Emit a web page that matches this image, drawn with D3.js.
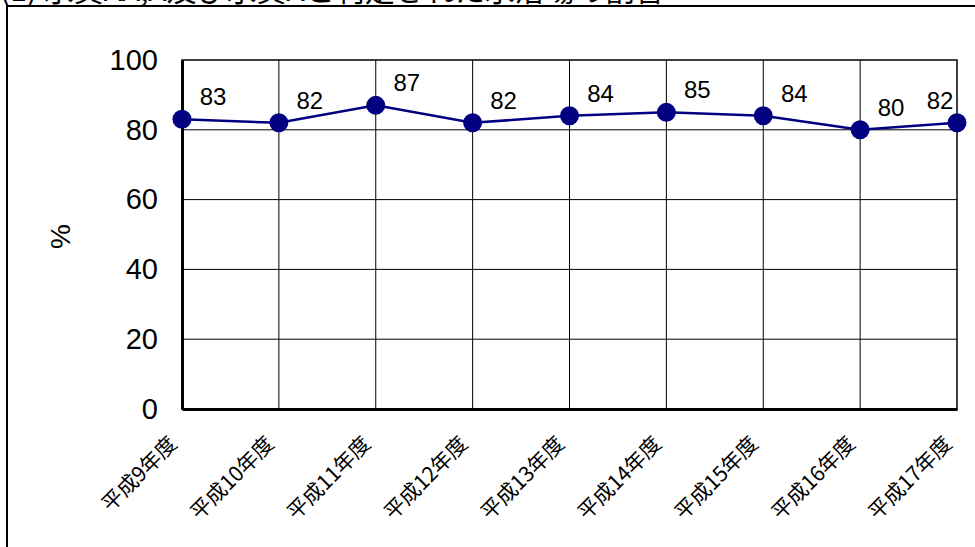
<!DOCTYPE html>
<html>
<head>
<meta charset="utf-8">
<script src="https://cdn.jsdelivr.net/npm/d3@7"></script>
<style>
  body { margin: 0; background: #fff; }
  svg { display: block; }
</style>
</head>
<body>
<div id="chart"></div>
<script>
const titleText = "(1) 水質AA,A及び水質Aと判定された水浴場の割合";
const years = ["平成9年度", "平成10年度", "平成11年度", "平成12年度", "平成13年度",
    "平成14年度", "平成15年度", "平成16年度", "平成17年度"];
const rates = [83, 82, 87, 82, 84, 85, 84, 80, 82];
const yTicks = [0, 20, 40, 60, 80, 100];

const W = 975, H = 547;
const margin = { top: 60, right: 18, bottom: 138, left: 182 };
const width = W - margin.left - margin.right;
const height = H - margin.top - margin.bottom;

const root = d3.select("#chart").append("svg")
    .attr("width", W)
    .attr("height", H);

// outer frame
root.append("rect")
    .attr("x", 7).attr("y", 6)
    .attr("width", W + 10).attr("height", H + 10)
    .attr("fill", "none")
    .attr("stroke", "#000")
    .attr("stroke-width", 2);

// title (cut off at top, as in the source)
root.append("text")
    .attr("x", 0)
    .attr("y", 1)
    .style("font-family", "'Noto Sans CJK JP', sans-serif")
    .style("font-size", "30px")
    .text(titleText);

const svg = root.append("g")
    .attr("transform", `translate(${margin.left},${margin.top})`);

const x = d3.scalePoint()
    .domain(years)
    .range([0, width]);

const y = d3.scaleLinear()
    .domain([0, 100])
    .range([height, 0]);

// grid
svg.append("g")
    .selectAll("line")
    .data(yTicks.slice(1, -1))
    .enter().append("line")
    .attr("x1", 0).attr("x2", width)
    .attr("y1", d => y(d)).attr("y2", d => y(d))
    .attr("stroke", "#000").attr("stroke-width", 1);

svg.append("g")
    .selectAll("line")
    .data(years.slice(1, -1))
    .enter().append("line")
    .attr("x1", d => x(d)).attr("x2", d => x(d))
    .attr("y1", 0).attr("y2", height)
    .attr("stroke", "#000").attr("stroke-width", 1);

// plot border
svg.append("rect")
    .attr("width", width).attr("height", height)
    .attr("fill", "none")
    .attr("stroke", "#000")
    .attr("stroke-width", 1.5);

// axes
const yAxis = svg.append("g")
    .call(d3.axisLeft(y).tickValues(yTicks).tickSize(0).tickPadding(24));
yAxis.select(".domain").attr("stroke-width", 3);
yAxis.selectAll("text")
    .style("font-family", "'Liberation Sans', Arial, sans-serif")
    .style("font-size", "29px")
    .attr("fill", "#000");

const xAxis = svg.append("g")
    .attr("transform", `translate(0,${height})`)
    .call(d3.axisBottom(x).tickSize(0).tickFormat(""));
xAxis.select(".domain").attr("stroke-width", 3);

svg.append("g")
    .selectAll("text")
    .data(years)
    .enter().append("text")
    .attr("transform", d => `translate(${x(d) - 9},${height + 31}) rotate(-45)`)
    .attr("text-anchor", "end")
    .attr("dy", "0.35em")
    .style("font-family", "'Noto Sans CJK JP', sans-serif")
    .style("font-size", "21px")
    .text(d => d);

// y label
svg.append("text")
    .attr("transform", `translate(${-122},${height / 2 + 2}) rotate(-90)`)
    .attr("text-anchor", "middle")
    .attr("dy", "0.35em")
    .style("font-family", "'Liberation Sans', Arial, sans-serif")
    .style("font-size", "28px")
    .text("%");

// line
const line = d3.line()
    .x((d, i) => x(years[i]))
    .y(d => y(d));

svg.append("path")
    .datum(rates)
    .attr("d", line)
    .attr("fill", "none")
    .attr("stroke", "#000080")
    .attr("stroke-width", 2.5);

svg.selectAll(".dot")
    .data(rates)
    .enter().append("circle")
    .attr("class", "dot")
    .attr("cx", (d, i) => x(years[i]))
    .attr("cy", d => y(d))
    .attr("r", 9.5)
    .attr("fill", "#000080");

svg.selectAll(".lbl")
    .data(rates)
    .enter().append("text")
    .attr("class", "lbl")
    .attr("x", (d, i) => Math.min(x(years[i]) + 31, width - 17))
    .attr("y", d => y(d) - 14)
    .attr("text-anchor", "middle")
    .style("font-family", "'Liberation Sans', Arial, sans-serif")
    .style("font-size", "24px")
    .text(d => d);
</script>
</body>
</html>
